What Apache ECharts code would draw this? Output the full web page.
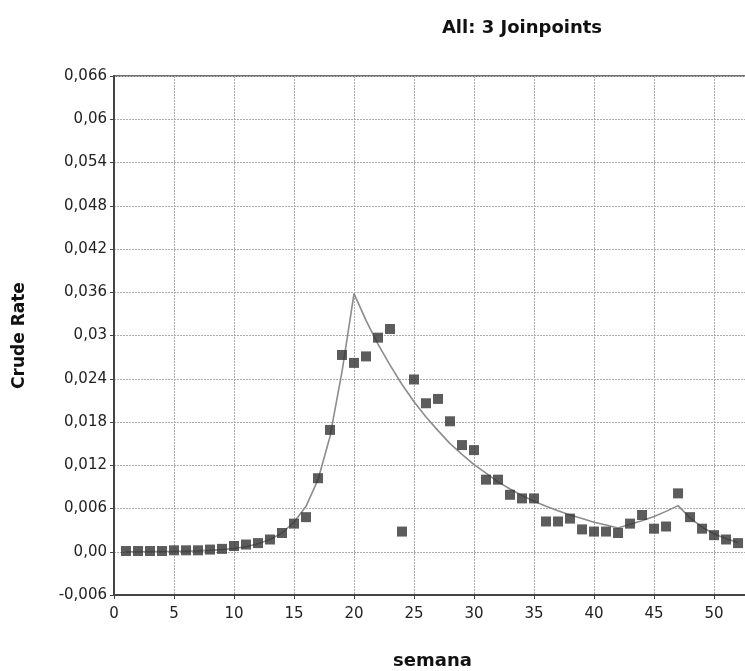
<!DOCTYPE html>
<html>
<head>
<meta charset="utf-8">
<script src="https://cdn.jsdelivr.net/npm/echarts@6/dist/echarts.min.js"></script>
<style>
  html, body { margin: 0; padding: 0; background: #fff; }
  #chart { width: 745px; height: 671px; }
</style>
</head>
<body>
<div id="chart"></div>
<script>
// Weekly observed crude rates (weeks 1..52)
var weeks = [1,2,3,4,5,6,7,8,9,10,11,12,13,14,15,16,17,18,19,20,21,22,23,24,25,26,
  27,28,29,30,31,32,33,34,35,36,37,38,39,40,41,42,43,44,45,46,47,48,49,50,51,52];

var observed = [0.0001,0.0001,0.0001,0.0001,0.0002,0.0002,0.0002,0.0003,0.0004,0.0008,
  0.0010,0.0012,0.0017,0.0026,0.0039,0.0048,0.0102,0.0169,0.0273,0.0262,
  0.0271,0.0297,0.0309,0.0028,0.0239,0.0206,0.0212,0.0181,0.0148,0.0141,
  0.0100,0.0100,0.0079,0.0074,0.0074,0.0042,0.0042,0.0046,0.0031,0.0028,
  0.0028,0.0026,0.0039,0.0051,0.0032,0.0035,0.0081,0.0048,0.0032,0.0023,
  0.0017,0.0012];

// Fitted joinpoint model (joinpoints at weeks 20, 42 and 47)
var modeled = [0.00001,0.00001,0.00002,0.00003,0.00005,0.00008,0.00012,0.00019,0.0003,0.00046,
  0.0007,0.0011,0.0017,0.0026,0.0041,0.0063,0.0100,0.0160,0.0250,0.0358,
  0.0321,0.0288,0.0259,0.0232,0.0208,0.0187,0.0168,0.0150,0.0135,0.0121,
  0.0109,0.0097,0.0087,0.0078,0.0070,0.0063,0.0057,0.0051,0.0046,0.0041,
  0.0037,0.0033,0.0038,0.0043,0.0049,0.0056,0.0064,0.0047,0.0034,0.0025,
  0.0018,0.0013];

var yTickLabels = ['-0,006','0,00','0,006','0,012','0,018','0,024','0,03',
  '0,036','0,042','0,048','0,054','0,06','0,066'];
var xTickLabels = ['0','5','10','15','20','25','30','35','40','45','50'];

var Y_MIN = -0.006, Y_STEP = 0.006;
var X_STEP = 5;

var chart = echarts.init(document.getElementById('chart'), null, { renderer: 'canvas' });
var font = 'DejaVu Sans, Verdana, sans-serif';
var gridLine = { show: true, lineStyle: { color: '#ababab', type: [2, 1], width: 1 } };

chart.setOption({
  backgroundColor: '#ffffff',
  animation: false,
  title: {
    text: 'All: 3 Joinpoints',
    left: 517, top: 14, textAlign: 'center',
    textStyle: { fontFamily: font, fontSize: 18, fontWeight: 'bold', color: '#111' }
  },
  grid: {
    left: 114, top: 76, right: -6, bottom: 76,
    outerBoundsMode: 'none', containLabel: false,
    show: true, borderColor: '#444', borderWidth: 1.5, backgroundColor: '#fff'
  },
  xAxis: {
    type: 'value',
    min: 0, max: 53.08, interval: X_STEP,
    name: 'semana', nameLocation: 'middle', nameGap: 57,
    nameTextStyle: { fontFamily: font, fontSize: 18, fontWeight: 'bold', color: '#111' },
    axisLine: { show: true, onZero: false, lineStyle: { color: '#444', width: 2 } },
    axisTick: { show: true, length: 4, lineStyle: { color: '#444' } },
    axisLabel: {
      fontFamily: font, fontSize: 15, color: '#222', margin: 12,
      showMaxLabel: false,
      formatter: function (v) {
        var i = Math.round(v / X_STEP);
        return Math.abs(v - i * X_STEP) < 1e-6 ? (xTickLabels[i] || '') : '';
      }
    },
    splitLine: gridLine
  },
  yAxis: {
    type: 'value',
    min: Y_MIN, max: 0.066, interval: Y_STEP,
    name: 'Crude Rate', nameLocation: 'middle', nameGap: 86, nameRotate: 90,
    nameTextStyle: { fontFamily: font, fontSize: 17, fontWeight: 'bold', color: '#111' },
    axisLine: { show: true, onZero: false, lineStyle: { color: '#444', width: 2 } },
    axisTick: { show: true, length: 4, lineStyle: { color: '#444' } },
    axisLabel: {
      fontFamily: font, fontSize: 15, color: '#222', margin: 7,
      formatter: function (v) {
        return yTickLabels[Math.round((v - Y_MIN) / Y_STEP)] || '';
      }
    },
    splitLine: gridLine
  },
  series: [
    {
      name: 'Modeled',
      type: 'line',
      data: weeks.map(function (w, i) { return [w, modeled[i]]; }),
      showSymbol: false,
      smooth: false,
      lineStyle: { color: '#8c8c8c', width: 1.6 },
      z: 2
    },
    {
      name: 'Observed',
      type: 'scatter',
      data: weeks.map(function (w, i) { return [w, observed[i]]; }),
      symbol: 'rect',
      symbolSize: 10,
      itemStyle: { color: '#333333' },
      z: 3
    }
  ]
});
</script>
</body>
</html>
